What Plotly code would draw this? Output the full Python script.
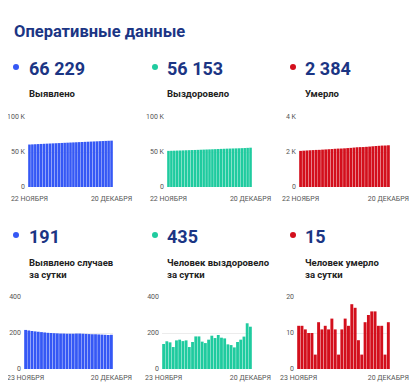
import plotly.graph_objects as go
import pandas as pd

# page body has an 8px margin -> figure is drawn 8px in from the window edge
OFF = 8
W, H = 418 - OFF, 390 - OFF

# ---- data ----
dates_total = [d.strftime("%Y-%m-%d") for d in pd.date_range("2020-11-22", "2020-12-20")]
dates_daily = [d.strftime("%Y-%m-%d") for d in pd.date_range("2020-11-23", "2020-12-20")]

detected_total = [60666, 60883, 61097, 61308, 61517, 61724, 61929, 62132, 62333, 62533,
                  62732, 62930, 63127, 63324, 63520, 63716, 63912, 64109, 64306, 64502,
                  64697, 64891, 65084, 65277, 65469, 65660, 65850, 66039, 66229]
recovered_total = [51599, 51738, 51892, 52040, 52162, 52321, 52484, 52639, 52798, 52920,
                   53070, 53251, 53432, 53584, 53728, 53891, 54076, 54248, 54437, 54611,
                   54781, 54918, 55051, 55171, 55321, 55484, 55664, 55918, 56153]
deaths_total = [2064, 2076, 2088, 2099, 2109, 2119, 2123, 2136, 2147, 2159,
                2170, 2184, 2195, 2199, 2210, 2224, 2236, 2254, 2271, 2279,
                2283, 2296, 2311, 2327, 2343, 2355, 2367, 2371, 2384]

detected_daily = [217, 214, 211, 209, 207, 205, 203, 201, 200, 199, 198, 197, 197, 196,
                  196, 196, 197, 197, 196, 195, 194, 193, 193, 192, 191, 190, 189, 190]
recovered_daily = [139, 154, 148, 122, 159, 163, 155, 159, 122, 150, 181, 181, 152, 144,
                   163, 185, 172, 189, 174, 170, 137, 133, 120, 150, 163, 180, 254, 235]
deaths_daily = [12, 12, 11, 10, 10, 4, 13, 11, 12, 11, 14, 11, 4, 11,
                14, 12, 18, 17, 8, 4, 13, 15, 16, 16, 12, 12, 4, 13]

headline_top = ["66 229", "56 153", "2 384"]
labels_top = ["Выявлено", "Выздоровело", "Умерло"]
headline_bottom = ["191", "435", "15"]
labels_bottom = ["Выявлено случаев<br>за сутки", "Человек выздоровело<br>за сутки",
                 "Человек умерло<br>за сутки"]

ticks_top_text = ["22 НОЯБРЯ", "20 ДЕКАБРЯ"]
ticks_bottom_text = ["23 НОЯБРЯ", "20 ДЕКАБРЯ"]

yticks = [
    ([0, 50000, 100000], ["0", "50 K", "100 K"]),
    ([0, 50000, 100000], ["0", "50 K", "100 K"]),
    ([0, 2000, 4000], ["0", "2 K", "4 K"]),
    ([0, 200, 400], ["0", "200", "400"]),
    ([0, 200, 400], ["0", "200", "400"]),
    ([0, 10, 20], ["0", "10", "20"]),
]

# ---- style ----
BLUE = "#3558f5"
TEAL = "#1fcb9f"
RED = "#d30f1c"
NAVY = "#1b3584"
colors = [BLUE, TEAL, RED]
FONT = "Roboto"


def px(x):
    return (x - OFF) / W


def py(y):
    return 1 - (y - OFF) / H


fig = go.Figure()

series = [
    (dates_total, detected_total), (dates_total, recovered_total), (dates_total, deaths_total),
    (dates_daily, detected_daily), (dates_daily, recovered_daily), (dates_daily, deaths_daily),
]
xdom = [(28, 113), (167, 252), (299, 390), (24, 113), (162, 252), (297, 390)]
ydom = [(187, 117)] * 3 + [(369, 297)] * 3
xstand = [6, 6, 6, 3, 3, 3]

layout_axes = {}
for i, (xs, ys) in enumerate(series):
    n = i + 1
    xa = "x" if n == 1 else f"x{n}"
    ya = "y" if n == 1 else f"y{n}"
    fig.add_trace(go.Bar(x=xs, y=ys, marker=dict(color=colors[i % 3], line=dict(width=0)),
                         xaxis=xa, yaxis=ya, hoverinfo="x+y"))
    tt = ticks_top_text if i < 3 else ticks_bottom_text
    layout_axes[f"xaxis{'' if n == 1 else n}"] = dict(
        domain=[px(xdom[i][0]), px(xdom[i][1])], anchor=ya, type="category",
        tickvals=[xs[0], xs[-1]], ticktext=tt, showgrid=False, zeroline=False,
        showline=False, ticks="", automargin=False, ticklabelstandoff=xstand[i],
        tickfont=dict(size=7, color="#555", family=FONT), fixedrange=True)
    tv, tx = yticks[i]
    layout_axes[f"yaxis{'' if n == 1 else n}"] = dict(
        domain=[py(ydom[i][0]), py(ydom[i][1])], anchor=xa, range=[0, tv[-1]],
        tickvals=tv, ticktext=tx, showgrid=True, gridcolor="#ececec", gridwidth=1,
        zeroline=False, showline=False, ticks="", ticklabelstandoff=2, automargin=False,
        tickfont=dict(size=7, color="#555", family=FONT), fixedrange=True)

fig.update_layout(**layout_axes)

annotations = [dict(text="<b>Оперативные данные</b>", x=px(12), y=py(32), xref="paper", yref="paper",
                    xanchor="left", yanchor="middle", showarrow=False,
                    font=dict(size=16.5, color=NAVY, family=FONT))]
shapes = []
num_x = [29, 167, 305]
dot_x = [16, 155, 293]
for row, (nums, labs, ny, ly) in enumerate([(headline_top, labels_top, 68, 93),
                                             (headline_bottom, labels_bottom, 236, 268)]):
    for c in range(3):
        annotations.append(dict(text=f"<b>{nums[c]}</b>", x=px(num_x[c] - 2), y=py(ny),
                                xref="paper", yref="paper", xanchor="left", yanchor="middle",
                                showarrow=False, font=dict(size=18, color=NAVY, family=FONT)))
        annotations.append(dict(text=f"<b>{labs[c]}</b>", x=px(num_x[c] - 2), y=py(ly),
                                xref="paper", yref="paper", xanchor="left", yanchor="middle",
                                align="left", showarrow=False,
                                font=dict(size=9.5, color="#222", family=FONT)))
        shapes.append(dict(type="circle", xref="paper", yref="paper", xsizemode="pixel",
                           ysizemode="pixel", xanchor=px(dot_x[c]), yanchor=py(ny - 1),
                           x0=-3, x1=3, y0=-3, y1=3, fillcolor=colors[c], line=dict(width=0)))

fig.update_layout(template="none", width=W, height=H, margin=dict(l=0, r=0, t=0, b=0),
                  paper_bgcolor="white", plot_bgcolor="white", showlegend=False,
                  bargap=0.12, annotations=annotations, shapes=shapes,
                  font=dict(family=FONT))

fig.write_html("out.html")
